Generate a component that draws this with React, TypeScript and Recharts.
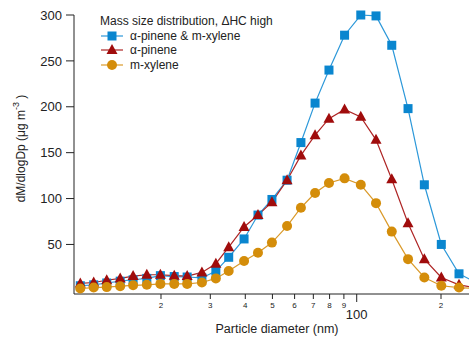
import { LineChart, Line, XAxis, YAxis, Legend } from "recharts";

// particle diameter (nm) of each size bin
const diameters = [10.3, 11.5, 12.8, 14.3, 15.9, 17.8, 19.9, 22.3, 24.8, 28.0, 31.4, 34.9, 39.6, 44.4, 49.8, 56.4, 63.2, 71.0, 79.6, 90.5, 103.4, 117.2, 133.4, 152.5, 174.4, 200.5, 231.9, 265];
const mixture = [5, 6, 8, 10, 11.5, 13, 16, 15, 14.5, 13.5, 21, 36, 56, 82, 99, 120, 161, 204, 240, 278, 300, 299, 267, 198, 115, 50, 18, 9];
const aPinene = [7.5, 8.5, 11, 13, 15.5, 17, 17, 16, 15.5, 19.5, 29, 47, 69, 82, 96, 120, 147, 169, 187, 197, 189, 164, 121, 73, 34, 14, 6, 3];
const mXylene = [2, 3, 3.5, 4.5, 5.5, 6, 7, 7, 7, 8.5, 13, 21, 32, 41, 52, 70, 90, 106, 117, 122, 115, 95, 64, 34, 14, 5, 3, 2];

const xTicks = [20, 30, 40, 50, 60, 70, 80, 90, 100, 200];
const xTickLabels = ["2", "3", "4", "5", "6", "7", "8", "9", "100", "2"];
const yTicks = [50, 100, 150, 200, 250, 300];

const legendTitle = "Mass size distribution, \u0394HC high";
const seriesNames = ["\u03b1-pinene & m-xylene", "\u03b1-pinene", "m-xylene"];

const FONT = "'Liberation Sans', Arial, sans-serif";
const INK = "#222";
const BLUE = "#0A86CF";
const BLUE_LINE = "#2C98D9";
const RED = "#A00C0C";
const RED_LINE = "#AE2424";
const ORANGE = "#D48D0A";
const ORANGE_LINE = "#DA9A2A";

const data = diameters.map((d, i) => ({
  d,
  mix: mixture[i],
  ap: aPinene[i],
  mx: mXylene[i],
}));

type Shape = "square" | "triangle" | "circle";

function marker(shape: Shape, cx: number, cy: number, fill: string, key?: string) {
  if (shape === "square") return <rect key={key} x={cx - 4.5} y={cy - 4.5} width={9} height={9} fill={fill} />;
  if (shape === "triangle")
    return <polygon key={key} points={`${cx},${cy - 6} ${cx + 5.5},${cy + 4} ${cx - 5.5},${cy + 4}`} fill={fill} />;
  return <circle key={key} cx={cx} cy={cy} r={5} fill={fill} />;
}

const dotFor = (shape: Shape, fill: string) => (p: any) => marker(shape, p.cx, p.cy, fill, `${shape}-${p.index}`);

const XTick = (props: any) => {
  const { x, y, payload } = props;
  const i = xTicks.indexOf(payload.value);
  const major = payload.value === 100;
  return (
    <g>
      <line x1={x} y1={y} x2={x} y2={y + (major ? 8 : 5)} stroke={INK} strokeWidth={1} />
      <text x={x} y={major ? y + 25 : y + 14} textAnchor="middle" fontSize={major ? 13 : 8} fill={INK} fontFamily={FONT}>
        {xTickLabels[i]}
      </text>
    </g>
  );
};

const legendItems: { name: string; shape: Shape; fill: string; line: string }[] = [
  { name: seriesNames[0], shape: "square", fill: BLUE, line: BLUE_LINE },
  { name: seriesNames[1], shape: "triangle", fill: RED, line: RED_LINE },
  { name: seriesNames[2], shape: "circle", fill: ORANGE, line: ORANGE_LINE },
];

const LegendBox = () => (
  <div style={{ fontFamily: FONT, fontSize: 12, color: INK, lineHeight: "14.5px" }}>
    <div>{legendTitle}</div>
    {legendItems.map((it) => (
      <div key={it.name} style={{ display: "flex", alignItems: "center", height: 14.5 }}>
        <svg width={29} height={14} style={{ marginRight: 1 }}>
          <line x1={1} y1={7} x2={23} y2={7} stroke={it.line} strokeWidth={1.2} />
          {marker(it.shape, 12, 7, it.fill)}
        </svg>
        <span>{it.name}</span>
      </div>
    ))}
  </div>
);

export default function App() {
  return (
    <div style={{ position: "absolute", left: 0, top: 0, width: 469, height: 339, overflow: "hidden", background: "#fff" }}>
      <LineChart width={480} height={339} data={data} margin={{ top: 15, right: 0, bottom: 0, left: 0 }}>
        <XAxis
          dataKey="d"
          type="number"
          scale="log"
          domain={[9.78, 275.6]}
          ticks={xTicks}
          interval={0}
          tickSize={0}
          tickMargin={0}
          tickLine={false}
          tick={<XTick />}
          height={45}
          axisLine={{ stroke: INK }}
          label={{
            content: (p: any) => (
              <text x={p.viewBox.x + p.viewBox.width / 2} y={p.viewBox.y + 39} textAnchor="middle" fontSize={12.5} fill={INK} fontFamily={FONT}>
                Particle diameter (nm)
              </text>
            ),
          }}
        />
        <YAxis
          type="number"
          domain={[-4, 300]}
          ticks={yTicks}
          interval={0}
          width={74}
          tickSize={8}
          tickMargin={4}
          axisLine={{ stroke: INK }}
          tickLine={{ stroke: INK }}
          tick={{ fontSize: 13, fill: INK, fontFamily: FONT }}
          label={{
            content: (p: any) => {
              const cx = 22;
              const cy = p.viewBox.y + p.viewBox.height / 2 - 6;
              return (
                <text transform={`translate(${cx},${cy}) rotate(-90)`} textAnchor="middle" fontSize={12} fill={INK} fontFamily={FONT} dominantBaseline="middle">
                  dM/dlogDp (μg m<tspan dy={-5} fontSize={9}>-3</tspan>
                  <tspan dy={5}> )</tspan>
                </text>
              );
            },
          }}
        />
        <Legend
          layout="vertical"
          align="center"
          verticalAlign="middle"
          content={() => <LegendBox />}
          wrapperStyle={{ top: 14, left: 100, width: 200, height: 60 }}
        />
        <Line dataKey="mix" name={seriesNames[0]} stroke={BLUE_LINE} strokeWidth={1.2} dot={dotFor("square", BLUE)} isAnimationActive={false} />
        <Line dataKey="ap" name={seriesNames[1]} stroke={RED_LINE} strokeWidth={1.2} dot={dotFor("triangle", RED)} isAnimationActive={false} />
        <Line dataKey="mx" name={seriesNames[2]} stroke={ORANGE_LINE} strokeWidth={1.2} dot={dotFor("circle", ORANGE)} isAnimationActive={false} />
      </LineChart>
    </div>
  );
}
